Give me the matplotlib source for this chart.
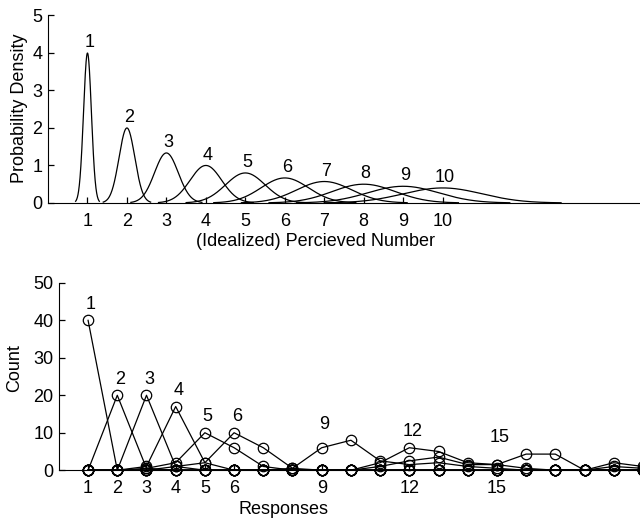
import numpy as np
import matplotlib
matplotlib.use("Agg")
import matplotlib.pyplot as plt

plt.rcParams['font.family'] = ['Liberation Sans', 'DejaVu Sans']
plt.rcParams['font.size'] = 13

# top panel: idealized perceived number densities (gaussians, Weber scaling)
means = [1, 2, 3, 4, 5, 6, 7, 8, 9, 10]
sds = [0.1, 0.2, 0.3, 0.4, 0.5, 0.6, 0.7, 0.8, 0.9, 1.0]
top_ticks = [1, 2, 3, 4, 5, 6, 7, 8, 9, 10]

# bottom panel: response counts for each presented number
resp = list(range(1, 21))
shown = [1, 2, 3, 4, 5, 6, 9, 12, 15]
c1 = [40, 0, 0, 0, 0, 0, 0, 0, 0, 0, 0, 0, 0, 0, 0, 0, 0, 0, 0, 0]
c2 = [0, 20, 0.5, 0, 0, 0, 0, 0, 0, 0, 0, 0, 0, 0, 0, 0, 0, 0, 0, 0]
c3 = [0, 0, 20, 1, 0, 0, 0, 0, 0, 0, 0, 0, 0, 0, 0, 0, 0, 0, 0, 0]
c4 = [0, 0, 1, 17, 2, 0, 0, 0, 0, 0, 0, 0, 0, 0, 0, 0, 0, 0, 0, 0]
c5 = [0, 0, 0.5, 2, 10, 6, 1, 0, 0, 0, 0, 0, 0, 0, 0, 0, 0, 0, 0, 0]
c6 = [0, 0, 0, 1, 2, 10, 6, 0.5, 0, 0, 0, 0, 0, 0, 0, 0, 0, 0, 0, 0]
c9 = [0, 0, 0, 0, 0, 0, 0, 0.5, 6, 8, 2.5, 1.5, 2, 1, 0.5, 0, 0, 0, 0, 0]
c12 = [0, 0, 0, 0, 0, 0, 0, 0, 0, 0, 2, 6, 5, 2, 1.5, 0.5, 0, 0, 1, 0.5]
c15 = [0, 0, 0, 0, 0, 0, 0, 0, 0, 0, 1, 2.5, 3.5, 1.5, 1.5, 4.3, 4.3, 0, 2, 1]
counts = [c1, c2, c3, c4, c5, c6, c9, c12, c15]

W, H = 640, 519
fig = plt.figure(figsize=(6.4, 5.19), dpi=100)
ax1 = fig.add_axes([0.075, 0.609, 0.925, 0.362])
ax2 = fig.add_axes([0.092, 0.094, 0.908, 0.361])

for m, s in zip(means, sds):
    xs = np.linspace(m - 3 * s, m + 3 * s, 200)
    ys = np.exp(-0.5 * ((xs - m) / s) ** 2) / (s * np.sqrt(2 * np.pi))
    ax1.plot(xs, ys, color='black', lw=0.9)
    ax1.text(m + 0.05, ys.max() + 0.05, str(m), ha='center', va='bottom')

ax1.set_xlim(0, 15)
ax1.set_ylim(0, 5)
ax1.set_xticks(top_ticks)
ax1.set_yticks([0, 1, 2, 3, 4, 5])

for n, c in zip(shown, counts):
    ax2.plot(resp, c, color='black', lw=0.9, marker='o', ms=7.5,
             mfc='none', mec='black', mew=0.9)
    ax2.text(n + 0.1, max(c) + 4.3, str(n), ha='center', va='center')

ax2.set_xlim(0, 19.9)
ax2.set_ylim(0, 50)
ax2.set_xticks(shown)
ax2.set_yticks([0, 10, 20, 30, 40, 50])

for ax in (ax1, ax2):
    ax.spines['top'].set_visible(False)
    ax.spines['right'].set_visible(False)
    ax.tick_params(direction='in', length=4, width=0.9)
    ax.tick_params(axis='x', pad=7)
    ax.tick_params(axis='y', pad=4)
    for line in ax.lines:
        line.set_clip_on(False)

# axis titles placed by pixel position
fig.text(315 / W, 1 - 241 / H, '(Idealized) Percieved Number', ha='center', va='center')
fig.text(20 / W, 1 - 108 / H, 'Probability Density', rotation=90, ha='center', va='center')
fig.text(283 / W, 1 - 509 / H, 'Responses', ha='center', va='center')
fig.text(15 / W, 1 - 368 / H, 'Count', rotation=90, ha='center', va='center')

fig.savefig('out.png', dpi=100)
